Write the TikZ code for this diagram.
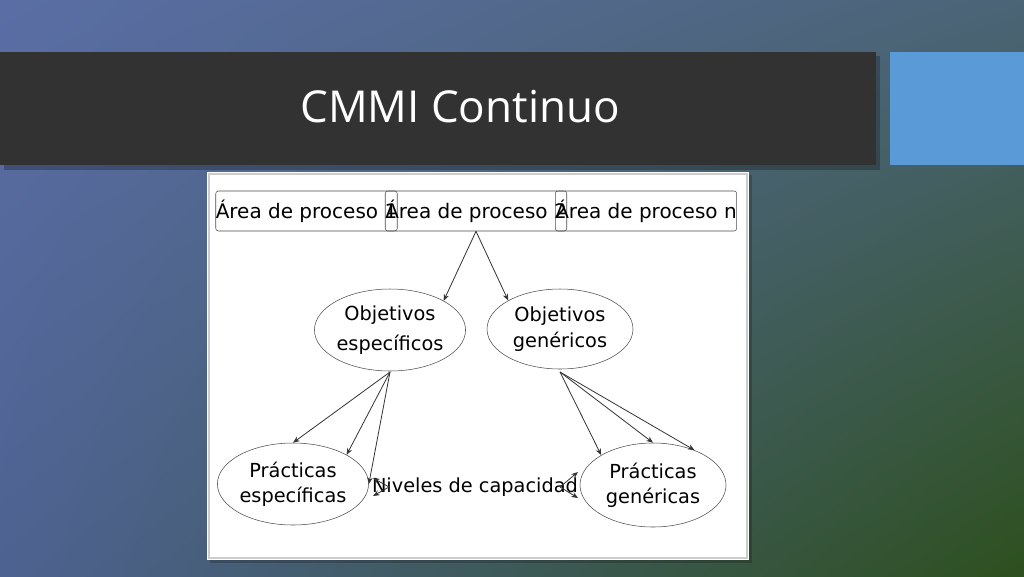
\documentclass[tikz,border=0pt]{standalone}
\usepackage{fontspec}
\setmainfont{DejaVu Sans}
\newfontfamily\titlefont{Open Sans}
\usetikzlibrary{shapes.geometric,arrows.meta,shadings}
\definecolor{bgTL}{RGB}{90,110,165}
\definecolor{bgTR}{RGB}{75,100,118}
\definecolor{bgBL}{RGB}{78,98,145}
\definecolor{bgBR}{RGB}{45,80,30}
\definecolor{barc}{RGB}{50,50,50}
\definecolor{bluesq}{RGB}{90,155,215}
\newlength{\px}\setlength{\px}{0.75pt}
\tikzset{
 bx/.style={draw=black!70,rounded corners=2pt,minimum width=162\px,minimum height=40\px,font=\fontsize{15}{17}\selectfont,inner sep=0pt},
 el/.style={draw=black!70,ellipse,inner sep=0pt,font=\fontsize{14.5}{19}\selectfont,align=center},
 ar/.style={-{Stealth[length=5pt,width=4pt]},black!80,line width=0.6pt}
}
\begin{document}
\begin{tikzpicture}[x=0.75pt,y=-0.75pt]
\useasboundingbox (0,0) rectangle (1024,576);
\shade[upper left=bgTL,upper right=bgTR,lower left=bgBL,lower right=bgBR] (0,0) rectangle (1024,576);
\fill[black,opacity=0.25] (4,56) rectangle (880,170);
\fill[barc] (0,52) rectangle (876,165);
\fill[bluesq] (890,52) rectangle (1024,165);
\node[text=white,font=\titlefont\fontsize{33}{36}\selectfont] (title) at (460,107) {CMMI Continuo};
\fill[black,opacity=0.2] (210,175) rectangle (752,563);
\fill[white] (207,172) rectangle (749,560);
\draw[black!20,line width=1.5pt] (209,174) rectangle (747,558);
\node[bx] (a1) at (306.5,211) {Área de proceso 1};
\node[bx] (a2) at (476,211) {Área de proceso 2};
\node[bx] (an) at (646,211) {Área de proceso n};
\node[el,minimum width=144\px,minimum height=82\px] (oe) at (390,330) {Objetivos\\[4pt]específicos};
\node[el,minimum width=146\px,minimum height=80\px] (og) at (560,329) {Objetivos\\genéricos};
\node[el,minimum width=144\px,minimum height=82\px] (pe) at (293,484) {Prácticas\\específicas};
\node[el,minimum width=146\px,minimum height=84\px] (pg) at (653,485) {Prácticas\\genéricas};
\node[font=\fontsize{14.5}{17}\selectfont] (nv) at (475,487) {Niveles de capacidad};
\draw[ar] (a2.south) -- (oe.north east);
\draw[ar] (a2.south) -- (og.north west);
\coordinate (oes) at (390,372);
\coordinate (ogs) at (560,372);
\draw[ar] (oes) -- (pe.north);
\draw[ar] (oes) -- (pe.north east);
\draw[ar] (oes) -- (pe.east);
\draw[ar] (ogs) -- (pg.north west);
\draw[ar] (ogs) -- (pg.north);
\draw[ar] (ogs) -- (pg.40);
\coordinate (lt) at (389,487);
\coordinate (rt) at (560,487);
\draw[ar] (lt) -- (373,478);
\draw[ar] (lt) -- (373,496);
\draw[ar] (rt) -- (578,472);
\draw[ar] (rt) -- (578,498);
\end{tikzpicture}
\end{document}
